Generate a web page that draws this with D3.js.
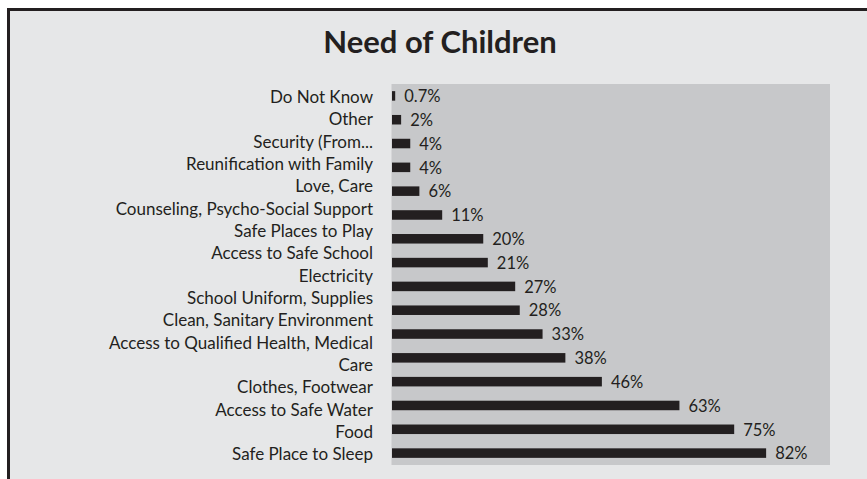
<!DOCTYPE html>
<html>
<head>
<meta charset="utf-8">
<script src="https://cdn.jsdelivr.net/npm/d3@7/dist/d3.min.js"></script>
<style>
  html, body { margin: 0; padding: 0; background: #ffffff; }
  svg { display: block; }
  text { font-family: Lato, "Open Sans", sans-serif; fill: #231f20; }
</style>
</head>
<body>
<svg id="chart" width="867" height="479"></svg>
<script>
// Survey: what children need most (share of respondents, %)
const categories = [
  "Do Not Know",
  "Other",
  "Security (From...",
  "Reunification with Family",
  "Love, Care",
  "Counseling, Psycho-Social Support",
  "Safe Places to Play",
  "Access to Safe School",
  "Electricity",
  "School Uniform, Supplies",
  "Clean, Sanitary Environment",
  "Access to Qualified Health, Medical\nCare",
  "Clothes, Footwear",
  "Access to Safe Water",
  "Food",
  "Safe Place to Sleep"
];
const values = [0.7, 2, 4, 4, 6, 11, 20, 21, 27, 28, 33, 38, 46, 63, 75, 82];
const valueLabels = ["0.7%", "2%", "4%", "4%", "6%", "11%", "20%", "21%", "27%", "28%", "33%", "38%", "46%", "63%", "75%", "82%"];
const title = "Need of Children";

const W = 867, H = 479;
const plot = { left: 392, right: 830, top: 84, bottom: 465 };

const svg = d3.select("#chart");

// outer frame (runs past the right and bottom edges)
svg.append("rect")
  .attr("x", 8.5).attr("y", 9.5)
  .attr("width", W + 40).attr("height", H + 40)
  .attr("fill", "#e6e7e8")
  .attr("stroke", "#231f20").attr("stroke-width", 3);

svg.append("text")
  .attr("x", 440).attr("y", 53)
  .attr("text-anchor", "middle")
  .style("font-size", "31px").style("font-weight", "700")
  .text(title);

const x = d3.scaleLinear().domain([0, 96]).range([plot.left, plot.right]);
const y = d3.scaleBand()
  .domain(categories)
  .range([plot.top, plot.bottom])
  .paddingInner(0.6).paddingOuter(0.3);

// plot area
svg.append("rect")
  .attr("x", plot.left - 0.5).attr("y", plot.top)
  .attr("width", plot.right - plot.left + 0.5).attr("height", plot.bottom - plot.top)
  .attr("fill", "#c7c8ca");

// bars
svg.append("g").selectAll("rect")
  .data(values)
  .join("rect")
  .attr("x", x(0))
  .attr("y", (d, i) => y(categories[i]))
  .attr("width", d => x(d) - x(0))
  .attr("height", y.bandwidth())
  .attr("fill", "#231f20");

// value labels
svg.append("g").selectAll("text")
  .data(values)
  .join("text")
  .attr("x", d => x(d) + 9)
  .attr("y", (d, i) => y(categories[i]) + y.bandwidth() / 2)
  .attr("dy", "0.38em")
  .style("font-size", "16.5px")
  .text((d, i) => valueLabels[i]);

// category labels: one line each, wrapped names take two; lines are evenly
// spread from the first bar's centre to the last bar's centre
const lines = categories.flatMap(c => c.split("\n"));
const lineY = d3.scalePoint()
  .domain(d3.range(lines.length))
  .range([y(categories[0]) + y.bandwidth() / 2 + 1,
          y(categories[categories.length - 1]) + y.bandwidth() / 2 + 1]);

svg.append("g").selectAll("text")
  .data(lines)
  .join("text")
  .attr("x", plot.left - 19)
  .attr("y", (d, i) => lineY(i))
  .attr("dy", "0.36em")
  .attr("text-anchor", "end")
  .style("font-size", "17px")
  .text(d => d);
</script>
</body>
</html>
